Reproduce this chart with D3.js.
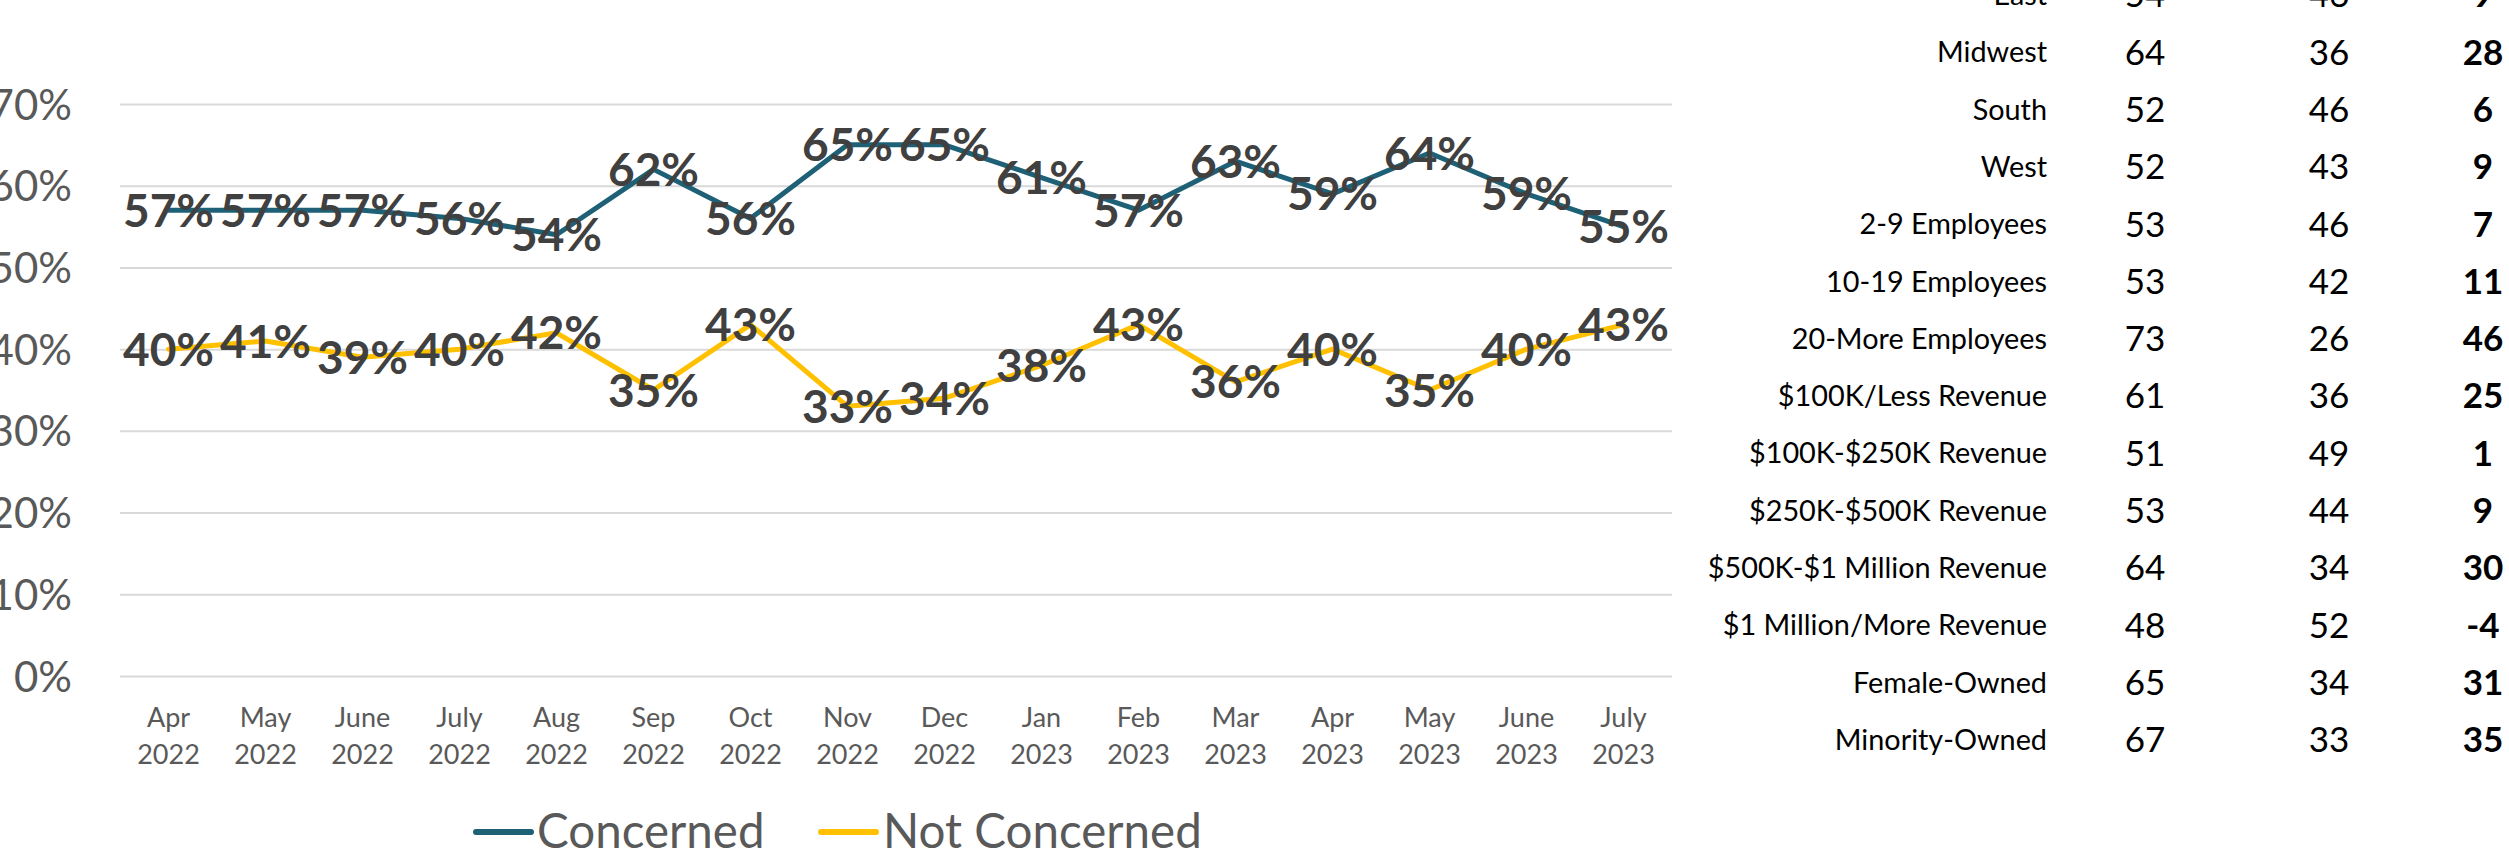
<!DOCTYPE html>
<html>
<head>
<meta charset="utf-8">
<script src="https://cdn.jsdelivr.net/npm/d3@7/dist/d3.min.js"></script>
<style>
  html, body { margin: 0; padding: 0; background: #ffffff; overflow: hidden; }
  svg { display: block; font-family: Lato, "Open Sans", "Noto Sans", sans-serif; }
</style>
</head>
<body>
<svg id="chart" width="2509" height="865"></svg>
<script>
// ---- survey trend: monthly share of owners concerned / not concerned ----
const months = ["Apr", "May", "June", "July", "Aug", "Sep", "Oct", "Nov", "Dec",
                "Jan", "Feb", "Mar", "Apr", "May", "June", "July"];
const years = ["2022", "2022", "2022", "2022", "2022", "2022", "2022", "2022", "2022",
               "2023", "2023", "2023", "2023", "2023", "2023", "2023"];
const concerned    = [57, 57, 57, 56, 54, 62, 56, 65, 65, 61, 57, 63, 59, 64, 59, 55];
const notConcerned = [40, 41, 39, 40, 42, 35, 43, 33, 34, 38, 43, 36, 40, 35, 40, 43];
const yTicks = [0, 10, 20, 30, 40, 50, 60, 70];
const seriesNames = ["Concerned", "Not Concerned"];

// ---- breakdown table by business group ----
const groups = ["East", "Midwest", "South", "West", "2-9 Employees", "10-19 Employees",
                "20-More Employees", "$100K/Less Revenue", "$100K-$250K Revenue",
                "$250K-$500K Revenue", "$500K-$1 Million Revenue", "$1 Million/More Revenue",
                "Female-Owned", "Minority-Owned"];
const groupConcerned    = [54, 64, 52, 52, 53, 53, 73, 61, 51, 53, 64, 48, 65, 67];
const groupNotConcerned = [46, 36, 46, 43, 46, 42, 26, 36, 49, 44, 34, 52, 34, 33];
const groupNet          = [9, 28, 6, 9, 7, 11, 46, 25, 1, 9, 30, -4, 31, 35];

const COLORS = { concerned: "#1E6177", notConcerned: "#FFC000",
                 grid: "#D9D9D9", axisText: "#595959", label: "#404040", table: "#000000" };

const svg = d3.select("#chart");

// plot area
const plot = { left: 120, right: 1672, top: 104, bottom: 676 };

const x = d3.scalePoint()
  .domain(d3.range(months.length))
  .range([plot.left, plot.right])
  .padding(0.5);

const y = d3.scaleLinear()
  .domain([0, 70])
  .range([plot.bottom, plot.top]);

// y axis with full-width gridlines
const yAxis = d3.axisLeft(y)
  .tickValues(yTicks)
  .tickSize(-(plot.right - plot.left))
  .tickPadding(48)
  .tickFormat(d => d + "%");

const yg = svg.append("g")
  .attr("transform", `translate(${plot.left},0)`)
  .call(yAxis);
yg.select(".domain").remove();
yg.selectAll(".tick line")
  .attr("stroke", COLORS.grid)
  .attr("stroke-width", 2);
yg.selectAll(".tick text")
  .attr("fill", COLORS.axisText)
  .attr("font-size", 42)
  .attr("font-family", "Lato, 'Open Sans', sans-serif")
  .attr("dy", "0.36em");

// x axis: two-line month / year labels
const xg = svg.append("g");
const xt = xg.selectAll("text.xlab")
  .data(d3.range(months.length))
  .join("text")
  .attr("class", "xlab")
  .attr("text-anchor", "middle")
  .attr("fill", COLORS.axisText)
  .attr("font-size", 27);
xt.append("tspan")
  .attr("x", i => x(i))
  .attr("y", 727)
  .text(i => months[i]);
xt.append("tspan")
  .attr("x", i => x(i))
  .attr("y", 764)
  .text(i => years[i]);

// series lines
const series = [
  { name: seriesNames[0], values: concerned, color: COLORS.concerned },
  { name: seriesNames[1], values: notConcerned, color: COLORS.notConcerned }
];

const line = d3.line()
  .x((d, i) => x(i))
  .y(d => y(d));

svg.append("g")
  .selectAll("path")
  .data(series)
  .join("path")
  .attr("d", s => line(s.values))
  .attr("fill", "none")
  .attr("stroke", s => s.color)
  .attr("stroke-width", 5)
  .attr("stroke-linejoin", "round")
  .attr("stroke-linecap", "round");

// data labels centred on each point
const lg = svg.append("g");
series.forEach(s => {
  lg.append("g")
    .selectAll("text")
    .data(s.values)
    .join("text")
    .attr("x", (d, i) => x(i))
    .attr("y", d => y(d))
    .attr("dy", "0.36em")
    .attr("text-anchor", "middle")
    .attr("font-size", 46)
    .attr("font-weight", 700)
    .attr("fill", COLORS.label)
    .text(d => d + "%");
});

// legend
const legend = svg.append("g");
const legendItems = [
  { name: seriesNames[0], color: COLORS.concerned, x0: 476, x1: 531, tx: 537 },
  { name: seriesNames[1], color: COLORS.notConcerned, x0: 821, x1: 876, tx: 883 }
];
legendItems.forEach(it => {
  legend.append("line")
    .attr("x1", it.x0).attr("x2", it.x1)
    .attr("y1", 832).attr("y2", 832)
    .attr("stroke", it.color)
    .attr("stroke-width", 6)
    .attr("stroke-linecap", "round");
  legend.append("text")
    .attr("x", it.tx)
    .attr("y", 848)
    .attr("fill", COLORS.axisText)
    .attr("font-size", 47.5)
    .text(it.name);
});

// breakdown table
const rowY = i => -5.3 + 57.3 * i;
const tbl = svg.append("g");
const rows = tbl.selectAll("g.row")
  .data(d3.range(groups.length))
  .join("g")
  .attr("class", "row")
  .attr("transform", i => `translate(0,${rowY(i)})`);

rows.append("text")
  .attr("x", 2047)
  .attr("dy", "0.36em")
  .attr("text-anchor", "end")
  .attr("font-size", 28.8)
  .attr("fill", COLORS.table)
  .text(i => groups[i]);

rows.append("text")
  .attr("x", 2145)
  .attr("dy", "0.36em")
  .attr("text-anchor", "middle")
  .attr("font-size", 35)
  .attr("fill", COLORS.table)
  .text(i => groupConcerned[i]);

rows.append("text")
  .attr("x", 2329)
  .attr("dy", "0.36em")
  .attr("text-anchor", "middle")
  .attr("font-size", 35)
  .attr("fill", COLORS.table)
  .text(i => groupNotConcerned[i]);

rows.append("text")
  .attr("x", 2483)
  .attr("dy", "0.36em")
  .attr("text-anchor", "middle")
  .attr("font-size", 35)
  .attr("font-weight", 700)
  .attr("fill", COLORS.table)
  .text(i => groupNet[i]);
</script>
</body>
</html>
